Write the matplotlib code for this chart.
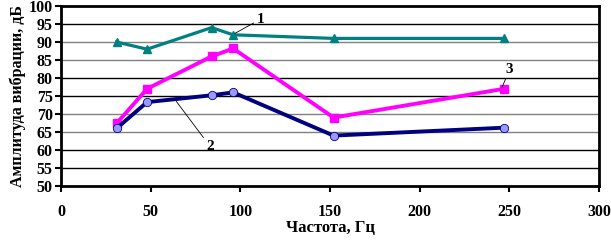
import matplotlib
matplotlib.use('Agg')
import matplotlib.pyplot as plt

plt.rcParams['font.family'] = ['Liberation Serif', 'DejaVu Serif']
plt.rcParams['font.weight'] = 'bold'

freq = [31, 48, 84, 96, 152, 247]
series1 = [90, 88, 94, 92, 91, 91]
series2 = [66, 73.3, 75.2, 76, 64, 66.2]
series3 = [67.4, 77, 86, 88.2, 69, 77]

y_ticks = [50, 55, 60, 65, 70, 75, 80, 85, 90, 95, 100]
x_ticks = [0, 50, 100, 150, 200, 250, 300]

fig = plt.figure(figsize=(6.11, 2.41), dpi=100)
ax = fig.add_axes([61 / 611, 1 - 186 / 241, 538 / 611, 180 / 241])

# grid lines: scanned look, some dark some grey
grid_colors = {55: 'black', 60: 'black', 65: 'grey', 70: 'grey', 75: 'black',
               80: 'black', 85: 'grey', 90: 'grey', 95: 'black'}
for yv, c in grid_colors.items():
    ax.axhline(yv, color=c, lw=1.0, zorder=1)

ax.plot(freq, series1, color='#008080', lw=2.3, marker='^', ms=6,
        markerfacecolor='#008080', markeredgecolor='#008080', zorder=3)
ax.plot(freq, series3, color='#FF00FF', lw=2.8, marker='s', ms=6,
        markerfacecolor='#FF00FF', markeredgecolor='#FF00FF', zorder=3)
ax.plot(freq, series2, color='#000080', lw=2.8, marker='o', ms=6,
        markerfacecolor='#9999FF', markeredgecolor='#000080', markeredgewidth=0.6, zorder=4)

# curve labels with leader lines
lead = dict(arrowstyle='-', color='black', lw=0.6, shrinkA=0, shrinkB=0)
ax.annotate('1', xy=(97, 92.4), xytext=(109, 96.3), fontsize=11,
            arrowprops=lead, va='center', ha='left')
ax.annotate('2', xy=(64.3, 73.5), xytext=(81, 61), fontsize=11,
            arrowprops=lead, va='center', ha='left')
ax.annotate('3', xy=(246, 77.5), xytext=(248, 82.3), fontsize=11,
            arrowprops=lead, va='center', ha='left')

ax.set_xlim(0, 300)
ax.set_ylim(50, 100)
ax.set_xticks(x_ticks)
ax.set_yticks(y_ticks)
ax.tick_params(direction='out', length=4, width=1.5, labelsize=11.5)
ax.tick_params(axis='x', pad=9)
ax.tick_params(axis='y', pad=2)
for s in ax.spines.values():
    s.set_linewidth(2)

ax.set_xlabel('Частота, Гц', fontsize=12, fontweight='bold', labelpad=0)
ax.set_ylabel('Амплитуда вибрации, дБ', fontsize=11.5, fontweight='bold', labelpad=2)

fig.savefig('out.png', dpi=100)
